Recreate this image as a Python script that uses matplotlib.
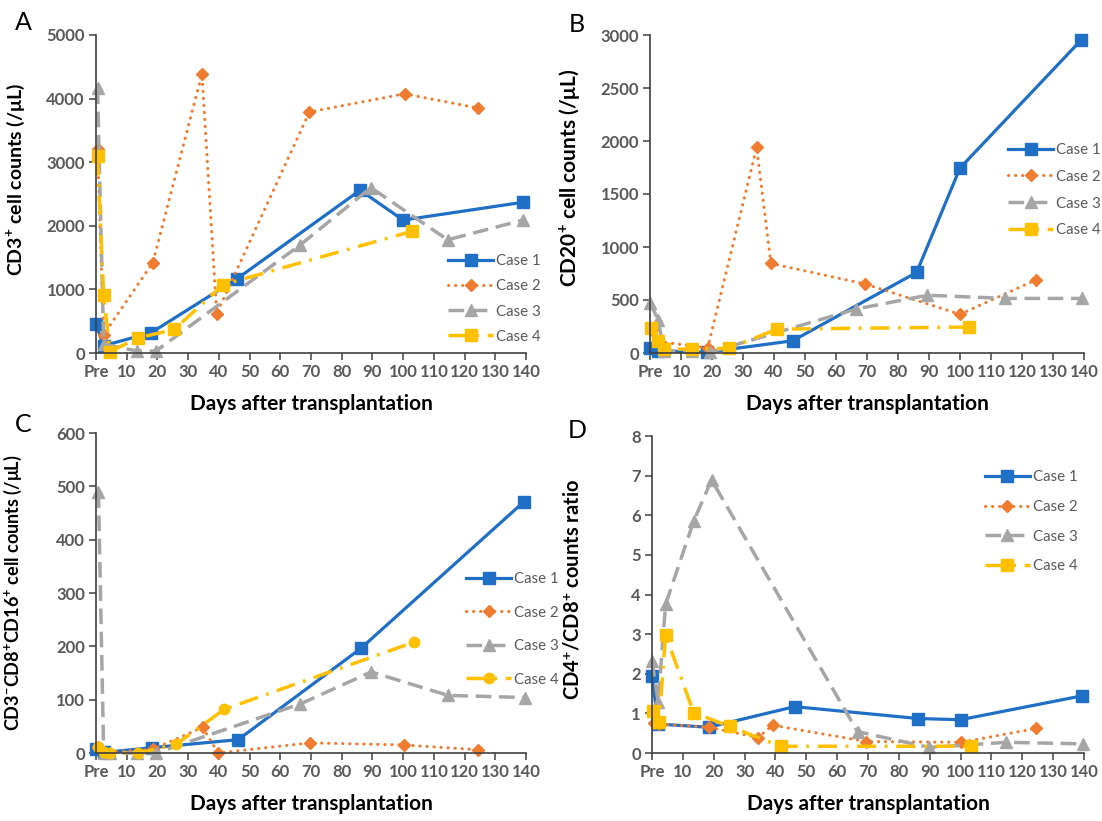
import matplotlib
matplotlib.use("Agg")
import matplotlib.pyplot as plt

W, H = 1102, 821
plt.rcParams['font.family'] = ['Lato', 'DejaVu Sans']
plt.rcParams['mathtext.fontset'] = 'custom'
plt.rcParams['mathtext.rm'] = 'Lato'
plt.rcParams['mathtext.bf'] = 'Lato:bold'

# ---------------- data ----------------
x_ticks = [0, 10, 20, 30, 40, 50, 60, 70, 80, 90, 100, 110, 120, 130, 140]
x_tick_labels = ['Pre', '10', '20', '30', '40', '50', '60', '70', '80', '90',
                 '100', '110', '120', '130', '140']
case_labels = ['Case 1', 'Case 2', 'Case 3', 'Case 4']

# Panel A: CD3+ counts
a_c1_x = [0, 2.5, 18, 46, 86, 100, 139]
a_c1_y = [450, 115, 320, 1170, 2560, 2090, 2370]
a_c2_x = [0.5, 2.5, 18.5, 34.5, 39.3, 69.5, 100.5, 124.5]
a_c2_y = [3200, 290, 1420, 4390, 620, 3790, 4075, 3850]
a_c3_x = [0.5, 2.5, 13.5, 19.5, 66.5, 89.5, 114.5, 139]
a_c3_y = [4160, 140, 30, 30, 1700, 2600, 1780, 2090]
a_c4_x = [0.5, 2.5, 4.5, 13.8, 25.5, 41.4, 103]
a_c4_y = [3090, 910, 20, 240, 370, 1075, 1915]

# Panel B: CD20+ counts
b_c1_x = [0, 2.5, 18.5, 46, 86, 100, 139]
b_c1_y = [50, 20, 8, 115, 760, 1745, 2950]
b_c2_x = [0.5, 2.5, 18.6, 34.4, 39, 69.5, 100, 124.5]
b_c2_y = [220, 110, 47, 1940, 845, 650, 365, 690]
b_c3_x = [0, 2.6, 4.5, 13.5, 19.5, 66.5, 89.5, 114.5, 139.5]
b_c3_y = [475, 315, 20, 15, 8, 415, 545, 515, 515]
b_c4_x = [0.3, 2.5, 4.5, 13.5, 25.5, 41, 103]
b_c4_y = [240, 115, 35, 38, 45, 225, 245]

# Panel C: CD3-CD8+CD16+ counts
c_c1_x = [0, 2.5, 18.3, 46.3, 86.2, 139.3]
c_c1_y = [8, 1, 10, 25, 196, 471]
c_c2_x = [0.5, 2.5, 18.5, 34.7, 39.8, 69.7, 100.4, 124.5]
c_c2_y = [12, 1, 7, 48, 0, 19, 15, 6]
c_c3_x = [0.8, 2.5, 4.5, 13.5, 19.5, 66.5, 89.6, 114.6, 139.7]
c_c3_y = [489, 0, 0, 0, 0, 92, 152, 108, 104]
c_c4_x = [0.8, 2.5, 4.5, 13.8, 26, 41.8, 103.6]
c_c4_y = [12, 2, 0, 0, 16, 82, 208]

# Panel D: CD4+/CD8+ ratio
d_c1_x = [0, 2, 18.4, 46.2, 86.2, 100, 139.2]
d_c1_y = [1.95, 0.73, 0.65, 1.17, 0.87, 0.84, 1.44]
d_c2_x = [0.5, 2.3, 18.4, 34.4, 39.1, 69.5, 100.2, 124.6]
d_c2_y = [0.75, 0.73, 0.65, 0.39, 0.70, 0.29, 0.27, 0.62]
d_c3_x = [0, 2, 4.4, 13.5, 19.3, 66.6, 89.9, 114.8, 139.8]
d_c3_y = [2.32, 1.29, 3.75, 5.85, 6.89, 0.54, 0.14, 0.27, 0.23]
d_c4_x = [0.3, 2.3, 4.4, 13.5, 25.2, 41.7, 103.3]
d_c4_y = [1.06, 0.77, 2.98, 1.02, 0.67, 0.17, 0.17]

# ---------------- styling ----------------
BLUE = '#1f6fc6'
ORANGE = '#f07c30'
GRAY = '#a6a6a6'
GOLD = '#ffc000'
TICKC = '#595959'

styles = [
    dict(color=BLUE, lw=2.3, ls='-', marker='s', ms=8.5),
    dict(color=ORANGE, lw=2.2, ls=(0, (0.1, 2.2)), marker='D', ms=6.5,
         dash_capstyle='round'),
    dict(color=GRAY, lw=2.5, ls=(0, (4.5, 2.2)), marker='^', ms=8.5),
    dict(color=GOLD, lw=2.5, ls=(0, (5.5, 2.5, 0.8, 2.5)), marker='s', ms=8.5),
]

fig = plt.figure(figsize=(W / 100, H / 100), dpi=100)


def rect(l, r, t, b):
    return [l / W, 1 - b / H, (r - l) / W, (b - t) / H]


def panel(r, series, ymax, ystep, ylabel, ylab_size, ylab_xy, letter,
          letter_xy, leg_xy, leg_sp, c4_marker='s'):
    ax = fig.add_axes(rect(*r))
    for i, (xs, ys) in enumerate(series):
        st = dict(styles[i])
        if i == 3:
            st['marker'] = c4_marker
            if c4_marker == 'o':
                st['ms'] = 7.5
        ax.plot(xs, ys, label=case_labels[i], clip_on=False,
                mec=st['color'], mfc=st['color'], **st)
    ax.set_xlim(0, 140)
    ax.set_ylim(0, ymax)
    ax.set_xticks(x_ticks)
    ax.set_xticklabels(x_tick_labels)
    yt = []
    v = 0
    while v <= ymax + 1e-9:
        yt.append(v)
        v += ystep
    ax.set_yticks(yt)
    ax.set_yticklabels([('%g' % t) for t in yt])
    for s in ['top', 'right']:
        ax.spines[s].set_visible(False)
    for s in ['left', 'bottom']:
        ax.spines[s].set_color('#404040')
        ax.spines[s].set_linewidth(1.2)
    ax.tick_params(axis='both', direction='out', length=5, width=1.1,
                   color='#404040', labelcolor=TICKC, labelsize=12, pad=3)
    for lab in ax.get_xticklabels() + ax.get_yticklabels():
        lab.set_fontweight('bold')
    ax.set_xlabel('Days after transplantation', fontsize=15,
                  fontweight='bold', labelpad=10)
    ax.set_ylabel(ylabel, fontsize=ylab_size, fontweight='bold')
    ax.yaxis.set_label_coords(ylab_xy[0] / W, 1 - ylab_xy[1] / H,
                              transform=fig.transFigure)
    fig.text(letter_xy[0] / W, 1 - letter_xy[1] / H, letter, fontsize=18,
             ha='center', va='center')
    leg = ax.legend(loc='upper left',
                    bbox_to_anchor=(leg_xy[0] / W, 1 - leg_xy[1] / H),
                    bbox_transform=fig.transFigure, frameon=False,
                    fontsize=10.8, handlelength=3.0, handletextpad=0.2,
                    labelspacing=leg_sp, borderpad=0, borderaxespad=0)
    for t in leg.get_texts():
        t.set_color(TICKC)
    return ax


panel((96, 526, 35, 353),
      [(a_c1_x, a_c1_y), (a_c2_x, a_c2_y), (a_c3_x, a_c3_y), (a_c4_x, a_c4_y)],
      5000, 1000, 'CD3$^{\\mathbf{+}}$ cell counts (/μL)', 14, (27, 180),
      'A', (23, 23), (448, 254), 0.75)
panel((650, 1084, 35, 353),
      [(b_c1_x, b_c1_y), (b_c2_x, b_c2_y), (b_c3_x, b_c3_y), (b_c4_x, b_c4_y)],
      3000, 500, 'CD20$^{\\mathbf{+}}$ cell counts (/μL)', 15, (583, 178),
      'B', (577, 25), (1008, 143), 0.85)
panel((96, 526, 433, 753),
      [(c_c1_x, c_c1_y), (c_c2_x, c_c2_y), (c_c3_x, c_c3_y), (c_c4_x, c_c4_y)],
      600, 100, 'CD3$^{\\mathbf{-}}$CD8$^{\\mathbf{+}}$CD16$^{\\mathbf{+}}$ cell counts (/μL)',
      13, (24, 593), 'C', (23, 424), (466, 572), 1.3, c4_marker='o')
panel((652, 1084, 436, 753),
      [(d_c1_x, d_c1_y), (d_c2_x, d_c2_y), (d_c3_x, d_c3_y), (d_c4_x, d_c4_y)],
      8, 1, 'CD4$^{\\mathbf{+}}$/CD8$^{\\mathbf{+}}$ counts ratio', 14.5, (584, 590),
      'D', (577, 430), (985, 470), 1.05)

fig.savefig('out.png', dpi=100)
